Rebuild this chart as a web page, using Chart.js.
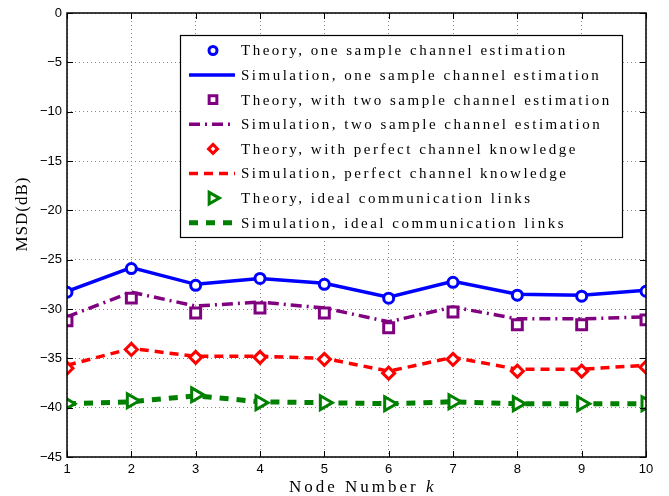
<!DOCTYPE html>
<html>
<head>
<meta charset="utf-8">
<script src="https://cdn.jsdelivr.net/npm/chart.js@4.4.1/dist/chart.umd.min.js"></script>
<style>
  html, body { margin: 0; padding: 0; background: #fff; }
  #wrap { width: 669px; height: 496px; }
</style>
</head>
<body>
<div id="wrap"><canvas id="msdChart" width="669" height="496"></canvas></div>
<script>
const nodes = [1, 2, 3, 4, 5, 6, 7, 8, 9, 10];
const yTicks = [0, -5, -10, -15, -20, -25, -30, -35, -40, -45];

const theoryOne     = [-28.3, -25.9, -27.6, -26.9, -27.5, -28.9, -27.3, -28.6, -28.7, -28.2];
const simOne        = [-28.2, -25.8, -27.5, -26.9, -27.4, -28.8, -27.2, -28.5, -28.6, -28.1];
const theoryTwo     = [-31.2, -28.9, -30.4, -29.9, -30.4, -31.9, -30.3, -31.6, -31.6, -31.1];
const simTwo        = [-30.8, -28.3, -29.7, -29.3, -29.9, -31.3, -29.8, -31.0, -31.0, -30.8];
const theoryPerfect = [-36.0, -34.1, -34.9, -34.9, -35.1, -36.5, -35.1, -36.3, -36.3, -35.9];
const simPerfect    = [-35.7, -34.0, -34.8, -34.8, -35.0, -36.3, -34.9, -36.1, -36.1, -35.7];
const theoryIdeal   = [-39.6, -39.3, -38.7, -39.5, -39.5, -39.6, -39.4, -39.6, -39.6, -39.6];
const simIdeal      = [-39.6, -39.4, -38.8, -39.4, -39.5, -39.6, -39.4, -39.6, -39.6, -39.6];

const labels = [
    'Theory, one sample channel estimation',
    'Simulation, one sample channel estimation',
    'Theory, with two sample channel estimation',
    'Simulation, two sample channel estimation',
    'Theory, with perfect channel knowledge',
    'Simulation, perfect channel knowledge',
    'Theory, ideal communication links',
    'Simulation, ideal communication links'
];

const BLUE = '#0000ff', PURPLE = '#800080', RED = '#ff0000', GREEN = '#008000';

const pts = arr => arr.map((v, i) => ({ x: nodes[i], y: v }));

function theory(label, data, color, style, radius, rot) {
    return {
        label: label, data: pts(data), showLine: false, order: 0,
        borderColor: color, backgroundColor: '#fff',
        pointStyle: style, pointRadius: radius, pointBorderWidth: 3,
        pointRotation: rot || 0, pointHoverRadius: radius
    };
}
function sim(label, data, color, dash, width) {
    return {
        label: label, data: pts(data), showLine: true, order: 1,
        borderColor: color, borderWidth: width, borderDash: dash,
        pointRadius: 0, fill: false, tension: 0
    };
}

const datasets = [
    theory(labels[0], theoryOne, BLUE, 'circle', 5),
    sim(labels[1], simOne, BLUE, [], 3.5),
    theory(labels[2], theoryTwo, PURPLE, 'rect', 7),
    sim(labels[3], simTwo, PURPLE, [11, 5, 2, 5], 3.5),
    theory(labels[4], theoryPerfect, RED, 'rectRot', 6),
    sim(labels[5], simPerfect, RED, [9, 6], 3.5),
    theory(labels[6], theoryIdeal, GREEN, 'triangle', 8, 90),
    sim(labels[7], simIdeal, GREEN, [9, 8], 5)
];

// small marker drawer for the legend
function drawMarker(ctx, ds, x, y) {
    const r = ds.pointRadius;
    ctx.save();
    ctx.lineWidth = ds.pointBorderWidth;
    ctx.strokeStyle = ds.borderColor;
    ctx.fillStyle = '#fff';
    ctx.beginPath();
    if (ds.pointStyle === 'circle') {
        ctx.arc(x, y, r * 0.8, 0, Math.PI * 2);
    } else if (ds.pointStyle === 'rect') {
        const s = r * 0.55;
        ctx.rect(x - s, y - s, 2 * s, 2 * s);
    } else if (ds.pointStyle === 'rectRot') {
        const s = r * 0.75;
        ctx.moveTo(x, y - s); ctx.lineTo(x + s, y); ctx.lineTo(x, y + s); ctx.lineTo(x - s, y);
        ctx.closePath();
    } else {
        const s = r * 0.8;
        ctx.moveTo(x + s, y); ctx.lineTo(x - s * 0.6, y - s * 0.9); ctx.lineTo(x - s * 0.6, y + s * 0.9);
        ctx.closePath();
    }
    ctx.fill();
    ctx.stroke();
    ctx.restore();
}

const matlabFrame = {
    id: 'matlabFrame',
    afterDraw(chart) {
        const ctx = chart.ctx;
        const a = chart.chartArea;
        const xs = chart.scales.x, ys = chart.scales.y;
        ctx.save();
        ctx.strokeStyle = '#000';
        ctx.lineWidth = 1;
        // inward ticks
        ctx.beginPath();
        nodes.forEach(n => {
            const px = Math.round(xs.getPixelForValue(n)) + 0.5;
            ctx.moveTo(px, a.bottom); ctx.lineTo(px, a.bottom - 6);
            ctx.moveTo(px, a.top); ctx.lineTo(px, a.top + 6);
        });
        yTicks.forEach(v => {
            const py = Math.round(ys.getPixelForValue(v)) + 0.5;
            ctx.moveTo(a.left, py); ctx.lineTo(a.left + 6, py);
            ctx.moveTo(a.right, py); ctx.lineTo(a.right - 6, py);
        });
        ctx.stroke();
        ctx.lineWidth = 1.5;
        ctx.strokeRect(a.left, a.top, a.right - a.left, a.bottom - a.top);

        // axis titles
        ctx.fillStyle = '#000';
        ctx.letterSpacing = '3px';
        ctx.textBaseline = 'middle';
        ctx.textAlign = 'left';
        const t1 = 'Node Number ';
        ctx.font = '17px "Liberation Serif"';
        const w1 = ctx.measureText(t1).width;
        ctx.font = 'italic 17px "Liberation Serif"';
        const w2 = ctx.measureText('k').width;
        const sx = 289;
        ctx.font = '17px "Liberation Serif"';
        ctx.fillText(t1, sx, 488);
        ctx.font = 'italic 17px "Liberation Serif"';
        ctx.fillText('k', sx + w1, 488);

        ctx.save();
        ctx.translate(23, 214);
        ctx.rotate(-Math.PI / 2);
        ctx.textAlign = 'center';
        ctx.letterSpacing = '1px';
        ctx.font = '17px "Liberation Serif"';
        ctx.fillText('MSD(dB)', 0, 0);
        ctx.restore();

        // legend box
        const bx = 180, by = 35, bw = 442, bh = 202;
        ctx.fillStyle = '#fff';
        ctx.fillRect(bx, by, bw, bh);
        ctx.lineWidth = 1.2;
        ctx.strokeStyle = '#000';
        ctx.strokeRect(bx + 0.5, by + 0.5, bw, bh);
        ctx.font = '15px "Liberation Serif"';
        ctx.letterSpacing = '2.5px';
        ctx.textAlign = 'left';
        chart.data.datasets.forEach((ds, i) => {
            const ry = 50.5 + i * 24.6;
            if (ds.showLine) {
                ctx.save();
                ctx.strokeStyle = ds.borderColor;
                ctx.lineWidth = ds.borderWidth;
                ctx.setLineDash(ds.borderDash);
                ctx.beginPath();
                ctx.moveTo(189, ry); ctx.lineTo(235, ry);
                ctx.stroke();
                ctx.restore();
            } else {
                drawMarker(ctx, ds, 213, ry);
            }
            ctx.fillStyle = '#000';
            ctx.fillText(ds.label, 241, ry + 1);
        });
        ctx.restore();
    }
};

const ctx = document.getElementById('msdChart').getContext('2d');
const msdChart = new Chart(ctx, {
    type: 'scatter',
    data: { datasets: datasets },
    options: {
        responsive: false,
        animation: false,
        layout: { padding: { left: 0, top: 13, right: 23, bottom: 0 } },
        plugins: { legend: { display: false }, tooltip: { enabled: false } },
        scales: {
            x: {
                type: 'linear', min: 1, max: 10,
                afterFit: s => { s.height = 39; },
                afterBuildTicks: s => { s.ticks = nodes.map(v => ({ value: v })); },
                grid: { color: '#888', lineWidth: 1, drawTicks: false },
                border: { display: false, dash: [1, 3] },
                ticks: { color: '#000', padding: 5, font: { family: 'Liberation Sans', size: 13 }, maxRotation: 0 }
            },
            y: {
                type: 'linear', min: -45, max: 0,
                afterFit: s => { s.width = 67; },
                afterBuildTicks: s => { s.ticks = yTicks.map(v => ({ value: v })); },
                grid: { color: '#888', lineWidth: 1, drawTicks: false },
                border: { display: false, dash: [1, 3] },
                ticks: {
                    color: '#000', padding: 5, font: { family: 'Liberation Sans', size: 13 },
                    callback: v => v < 0 ? '\u2212' + Math.abs(v) : String(v)
                }
            }
        }
    },
    plugins: [matlabFrame]
});
</script>
</body>
</html>
